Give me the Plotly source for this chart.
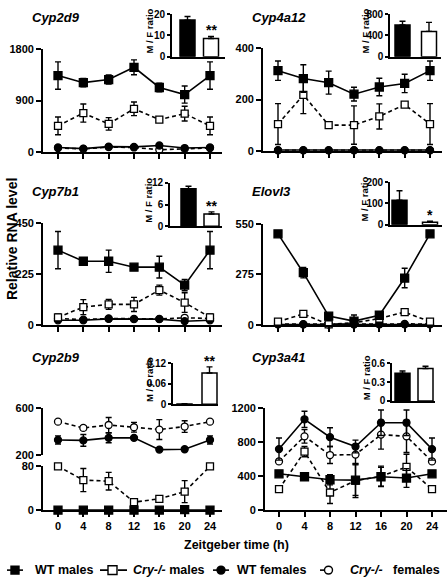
import plotly.graph_objects as go

W, H = 448, 582

zt = [0, 4, 8, 12, 16, 20, 24]
zt_labels = ["0", "4", "8", "12", "16", "20", "24"]
series_names = ["WT males", "<i>Cry-/-</i> males", "WT females", "<i>Cry-/-</i>   females"]
genes = ["Cyp2d9", "Cyp4a12", "Cyp7b1", "Elovl3", "Cyp2b9", "Cyp3a41"]
ratio_groups = ["WT", "Cry-/-"]

# ---- Cyp2d9 ----
cyp2d9_wt_m = [1340, 1215, 1270, 1485, 1130, 1005, 1340]
cyp2d9_wt_m_sd = [240, 75, 80, 130, 75, 150, 240]
cyp2d9_cry_m = [455, 680, 490, 755, 565, 670, 455]
cyp2d9_cry_m_sd = [155, 160, 110, 120, 20, 130, 155]
cyp2d9_wt_f = [75, 55, 90, 85, 110, 65, 75]
cyp2d9_wt_f_sd = [15, 10, 15, 10, 20, 10, 15]
cyp2d9_cry_f = [65, 50, 80, 75, 35, 50, 65]
cyp2d9_cry_f_sd = [10, 10, 10, 10, 10, 10, 10]
cyp2d9_ratio = [17.2, 8.5]
cyp2d9_ratio_sd = [1.7, 1.0]

# ---- Cyp4a12 ----
cyp4a12_wt_m = [313, 282, 266, 221, 249, 263, 313]
cyp4a12_wt_m_sd = [38, 54, 45, 27, 34, 36, 38]
cyp4a12_cry_m = [104, 218, 100, 100, 134, 180, 104]
cyp4a12_cry_m_sd = [80, 73, 5, 75, 49, 8, 80]
cyp4a12_wt_f = [2, 2, 2, 2, 2, 2, 2]
cyp4a12_wt_f_sd = [0, 0, 0, 0, 0, 0, 0]
cyp4a12_cry_f = [1, 1, 1, 1, 1, 1, 1]
cyp4a12_cry_f_sd = [0, 0, 0, 0, 0, 0, 0]
cyp4a12_ratio = [595, 475]
cyp4a12_ratio_sd = [70, 170]

# ---- Cyp7b1 ----
cyp7b1_wt_m = [331, 282, 282, 256, 256, 177, 331]
cyp7b1_wt_m_sd = [82, 8, 49, 8, 48, 25, 82]
cyp7b1_cry_m = [35, 80, 92, 92, 155, 100, 35]
cyp7b1_cry_m_sd = [15, 33, 22, 31, 22, 43, 15]
cyp7b1_wt_f = [22, 22, 28, 27, 27, 18, 22]
cyp7b1_wt_f_sd = [5, 4, 4, 4, 4, 4, 5]
cyp7b1_cry_f = [30, 25, 30, 28, 28, 33, 30]
cyp7b1_cry_f_sd = [6, 5, 5, 5, 5, 6, 6]
cyp7b1_ratio = [10.4, 3.4]
cyp7b1_ratio_sd = [0.7, 0.6]

# ---- Elovl3 ----
elovl3_wt_m = [495, 284, 48, 21, 53, 255, 495]
elovl3_wt_m_sd = [10, 28, 8, 33, 10, 53, 10]
elovl3_cry_m = [18, 60, 3, 12, 35, 70, 18]
elovl3_cry_m_sd = [5, 6, 3, 5, 5, 8, 5]
elovl3_wt_f = [3, 3, 3, 3, 3, 3, 3]
elovl3_wt_f_sd = [0, 0, 0, 0, 0, 0, 0]
elovl3_cry_f = [5, 4, 4, 4, 5, 6, 5]
elovl3_cry_f_sd = [0, 0, 0, 0, 0, 0, 0]
elovl3_ratio = [115, 11]
elovl3_ratio_sd = [45, 5]

# ---- Cyp2b9 (broken axis) ----
cyp2b9_wt_m = [0.5, 0.5, 0.5, 0.5, 0.5, 1.5, 0.5]
cyp2b9_wt_m_sd = [0, 0, 0, 0, 0, 0, 0]
cyp2b9_cry_m = [80, 55, 53, 15, 21, 34, 80]
cyp2b9_cry_m_sd = [1, 21, 16, 1, 1, 20, 1]
cyp2b9_wt_f = [328, 324, 346, 346, 245, 248, 328]
cyp2b9_wt_f_sd = [35, 50, 42, 5, 5, 5, 35]
cyp2b9_cry_f = [485, 431, 456, 437, 417, 443, 485]
cyp2b9_cry_f_sd = [5, 20, 65, 42, 85, 50, 5]
cyp2b9_ratio = [0.001, 0.092]
cyp2b9_ratio_sd = [0.0005, 0.018]

# ---- Cyp3a41 ----
cyp3a41_wt_m = [430, 395, 360, 355, 395, 380, 430]
cyp3a41_wt_m_sd = [15, 40, 60, 180, 110, 110, 15]
cyp3a41_cry_m = [250, 690, 210, 350, 400, 510, 250]
cyp3a41_cry_m_sd = [15, 60, 130, 200, 120, 150, 15]
cyp3a41_wt_f = [720, 1070, 860, 750, 1030, 1030, 720]
cyp3a41_wt_f_sd = [130, 95, 110, 75, 150, 150, 130]
cyp3a41_cry_f = [575, 870, 650, 655, 890, 870, 575]
cyp3a41_cry_f_sd = [25, 80, 100, 110, 170, 190, 25]
cyp3a41_ratio = [0.445, 0.52]
cyp3a41_ratio_sd = [0.035, 0.035]

FONT = "Liberation Sans, Arial, sans-serif"


def fx(px):
    return px / W


def fy(py):
    return 1 - py / H


fig = go.Figure()

STY = {
    "wt_m": dict(symbol="square", fill="black", dash="solid", size=8),
    "cry_m": dict(symbol="square", fill="white", dash="4px,3px", size=7),
    "wt_f": dict(symbol="circle", fill="black", dash="solid", size=7),
    "cry_f": dict(symbol="circle", fill="white", dash="4px,3px", size=7),
}


def add_series(n, y, sd, kind):
    s = STY[kind]
    fig.add_trace(go.Scatter(
        x=zt, y=y, mode="lines+markers",
        xaxis="x" + ("" if n == 1 else str(n)), yaxis="y" + ("" if n == 1 else str(n)),
        line=dict(color="black", width=1.6, dash=s["dash"]),
        marker=dict(symbol=s["symbol"], size=s["size"], color=s["fill"],
                    line=dict(color="black", width=1.3)),
        error_y=dict(type="data", array=sd, color="black", thickness=1.4, width=3),
        cliponaxis=False, showlegend=False,
    ))


add_series(1, cyp2d9_cry_f, cyp2d9_cry_f_sd, "cry_f")
add_series(1, cyp2d9_wt_f, cyp2d9_wt_f_sd, "wt_f")
add_series(1, cyp2d9_cry_m, cyp2d9_cry_m_sd, "cry_m")
add_series(1, cyp2d9_wt_m, cyp2d9_wt_m_sd, "wt_m")

add_series(2, cyp4a12_cry_f, cyp4a12_cry_f_sd, "cry_f")
add_series(2, cyp4a12_wt_f, cyp4a12_wt_f_sd, "wt_f")
add_series(2, cyp4a12_cry_m, cyp4a12_cry_m_sd, "cry_m")
add_series(2, cyp4a12_wt_m, cyp4a12_wt_m_sd, "wt_m")

add_series(3, cyp7b1_cry_f, cyp7b1_cry_f_sd, "cry_f")
add_series(3, cyp7b1_wt_f, cyp7b1_wt_f_sd, "wt_f")
add_series(3, cyp7b1_cry_m, cyp7b1_cry_m_sd, "cry_m")
add_series(3, cyp7b1_wt_m, cyp7b1_wt_m_sd, "wt_m")

add_series(4, elovl3_cry_f, elovl3_cry_f_sd, "cry_f")
add_series(4, elovl3_wt_f, elovl3_wt_f_sd, "wt_f")
add_series(4, elovl3_cry_m, elovl3_cry_m_sd, "cry_m")
add_series(4, elovl3_wt_m, elovl3_wt_m_sd, "wt_m")

# Cyp2b9 lower segment (axis 5) and upper segment (axis 7)
add_series(5, cyp2b9_cry_m, cyp2b9_cry_m_sd, "cry_m")
add_series(5, cyp2b9_wt_m, cyp2b9_wt_m_sd, "wt_m")
add_series(7, cyp2b9_cry_f, cyp2b9_cry_f_sd, "cry_f")
add_series(7, cyp2b9_wt_f, cyp2b9_wt_f_sd, "wt_f")

add_series(6, cyp3a41_cry_f, cyp3a41_cry_f_sd, "cry_f")
add_series(6, cyp3a41_cry_m, cyp3a41_cry_m_sd, "cry_m")
add_series(6, cyp3a41_wt_f, cyp3a41_wt_f_sd, "wt_f")
add_series(6, cyp3a41_wt_m, cyp3a41_wt_m_sd, "wt_m")

# Main axes geometry
main_axes = {
    1: (43, 222, 58, 210, 44.3, 148.8, 0, 1800, [0, 900, 1800], False),
    2: (263, 442, 278, 430, 43.3, 147.7, 0, 400, [0, 200, 400], False),
    3: (43, 222, 58, 210, 221.7, 326, 0, 450, [0, 225, 450], False),
    4: (263, 442, 278, 430, 222.3, 325.7, 0, 550, [0, 275, 550], False),
    5: (43, 222, 58, 210, 470, 515, 0, 80, [0, 80], True),
    6: (265, 447, 279, 432, 410.7, 515, 0, 1200, [0, 400, 800, 1200], True),
    7: (43, 222, 58, 210, 410.7, 458.3, 200, 600, [200, 600], None),
}

layout = dict(
    width=W, height=H, autosize=False, margin=dict(l=0, r=0, t=0, b=0, pad=0),
    paper_bgcolor="white", plot_bgcolor="white", showlegend=False,
    font=dict(family=FONT, color="black"),
)

for n, (xl, xr, p0, p24, yt, yb, ymin, ymax, yt_vals, lab) in main_axes.items():
    sc = (p24 - p0) / 24.0
    xrange = [(xl - p0) / sc, (xr - p0) / sc]
    sfx = "" if n == 1 else str(n)
    xa = dict(domain=[fx(xl), fx(xr)], range=xrange, anchor="y" + sfx,
              tickvals=zt, ticktext=zt_labels, ticks="outside", ticklen=5, tickwidth=1.5,
              tickcolor="black", showline=True, linewidth=1.8, linecolor="black",
              showgrid=False, zeroline=False, showticklabels=bool(lab),
              tickfont=dict(size=11, family=FONT, weight="bold"))
    if lab is None:
        xa["visible"] = False
    ya = dict(domain=[fy(yb), fy(yt)], range=[ymin, ymax], anchor="x" + sfx,
              tickvals=yt_vals, ticks="outside", ticklen=5, tickwidth=1.5, tickcolor="black",
              showline=True, linewidth=1.8, linecolor="black", showgrid=False, zeroline=False,
              tickfont=dict(size=11, family=FONT, weight="bold"))
    layout["xaxis" + sfx] = xa
    layout["yaxis" + sfx] = ya

insets = [
    (8, cyp2d9_ratio, cyp2d9_ratio_sd, (172, 187.5, 211, 225, 8.3, 51.7, 20, [0, 10, 20], ["0", "10", "20"], 149), "**"),
    (9, cyp4a12_ratio, cyp4a12_ratio_sd, (390, 402.5, 429, 441, 8.3, 51.7, 800, [0, 400, 800], ["0", "400", "800"], 365), ""),
    (10, cyp7b1_ratio, cyp7b1_ratio_sd, (170, 188.5, 211.5, 222, 180.7, 225, 12, [0, 6, 12], ["0", "6", "12"], 149), "**"),
    (11, elovl3_ratio, elovl3_ratio_sd, (390, 399.5, 430, 442, 180, 223.3, 200, [0, 100, 200], ["0", "100", "200"], 365), "*"),
    (12, cyp2b9_ratio, cyp2b9_ratio_sd, (173, 184.5, 209.5, 218, 365, 406.7, 0.12, [0, 0.06, 0.12], ["0", "0.06", "0.12"], 150), "**"),
    (13, cyp3a41_ratio, cyp3a41_ratio_sd, (392, 402.5, 425.5, 435, 365, 403.3, 0.6, [0, 0.3, 0.6], ["0", "0.3", "0.6"], 366), ""),
]

annotations = []
for n, vals, sds, geo, star in insets:
    ax, bc, wc, ex, yt, yb, ymax, tv, tt, tx = geo
    unit = wc - bc
    xr = [-(bc - ax) / unit, 1 + (ex - wc) / unit]
    bw = 15.0 / unit
    fig.add_trace(go.Bar(
        x=ratio_groups, y=vals, width=bw, xaxis="x%d" % n, yaxis="y%d" % n,
        marker=dict(color=["black", "white"], line=dict(color="black", width=1.5)),
        error_y=dict(type="data", array=sds, arrayminus=[0, 0], symmetric=False,
                     color="black", thickness=1.4, width=3),
        showlegend=False, cliponaxis=False,
    ))
    layout["xaxis%d" % n] = dict(domain=[fx(ax), fx(ex)], range=xr, anchor="y%d" % n,
                                 type="category", showline=True, linewidth=1.6, linecolor="black",
                                 showticklabels=False, ticks="", showgrid=False, zeroline=False)
    layout["yaxis%d" % n] = dict(domain=[fy(yb), fy(yt)], range=[0, ymax], anchor="x%d" % n,
                                 tickvals=tv, ticktext=tt, ticks="outside", ticklen=3, tickwidth=1.5,
                                 tickcolor="black", showline=True, linewidth=1.6, linecolor="black",
                                 showgrid=False, zeroline=False,
                                 tickfont=dict(size=10, family=FONT, weight="bold"))
    annotations.append(dict(text="M / F ratio", textangle=-90, xref="paper", yref="paper",
                            x=fx(tx), y=fy((yt + yb) / 2 - 4), xanchor="center", yanchor="middle",
                            showarrow=False, font=dict(size=9.5, family=FONT, weight="bold")))
    if star:
        annotations.append(dict(text=star, xref="x%d" % n, yref="y%d" % n, x=ratio_groups[1],
                                y=vals[1] + sds[1], yanchor="bottom", xanchor="center",
                                showarrow=False, yshift=-4,
                                font=dict(size=14, family=FONT, weight="bold")))

title_pos = [(30, 12), (250, 12), (30, 189), (250, 189), (30, 359), (250, 359)]
for g, (tx, ty) in zip(genes, title_pos):
    annotations.append(dict(text="<i>%s</i>" % g, xref="paper", yref="paper", x=fx(tx), y=fy(ty),
                            xanchor="left", yanchor="middle", showarrow=False,
                            font=dict(size=13, family=FONT, weight="bold")))

annotations.append(dict(text="Relative RNA level", textangle=-90, xref="paper", yref="paper",
                        x=fx(12), y=fy(238), xanchor="center", yanchor="middle", showarrow=False,
                        font=dict(size=14, family=FONT, weight="bold")))
annotations.append(dict(text="Zeitgeber time (h)", xref="paper", yref="paper",
                        x=fx(237), y=fy(550), xanchor="center", yanchor="middle", showarrow=False,
                        font=dict(size=12.5, family=FONT, weight="bold")))

shapes = []
LY = 576
leg = [
    ((7, 23), (11, 19), "rect", "black", "solid", 33),
    ((100, 128), (108, 117), "rect", "white", "dash", 131),
    ((213, 229), (217, 225), "circle", "black", "solid", 235),
    ((320, 337), (324.5, 332.5), "circle", "white", "dash", 348),
]
for name, ((l0, l1), (m0, m1), shp, fill, dash, tx) in zip(series_names, leg):
    shapes.append(dict(type="line", xref="paper", yref="paper", x0=fx(l0), x1=fx(l1),
                       y0=fy(LY), y1=fy(LY), line=dict(color="black", width=1.6, dash=dash)))
    h = (m1 - m0) / 2
    shapes.append(dict(type=shp, xref="paper", yref="paper", x0=fx(m0), x1=fx(m1),
                       y0=fy(LY + h), y1=fy(LY - h), fillcolor=fill,
                       line=dict(color="black", width=1.4)))
    annotations.append(dict(text=name, xref="paper", yref="paper", x=fx(tx), y=fy(LY),
                            xanchor="left", yanchor="middle", showarrow=False,
                            font=dict(size=12.5, family=FONT, weight="bold")))

layout["annotations"] = annotations
layout["shapes"] = shapes
fig.update_layout(**layout)
fig.write_html("out.html", config={"displayModeBar": False},
               post_script="document.body.style.margin='0';document.body.style.padding='0';"
                           "document.documentElement.style.overflow='hidden';")
